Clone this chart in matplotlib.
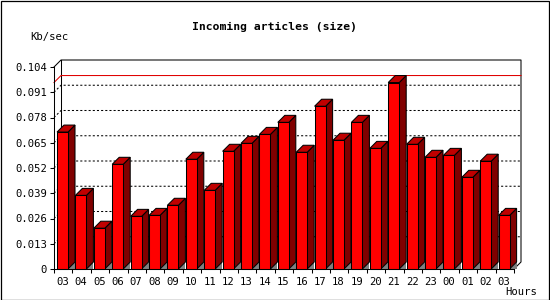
import matplotlib
matplotlib.use("Agg")
import matplotlib.pyplot as plt
from matplotlib.patches import Polygon, Rectangle

# hourly incoming article size (Kb/sec)
hours = ["03", "04", "05", "06", "07", "08", "09", "10", "11", "12", "13", "14", "15",
         "16", "17", "18", "19", "20", "21", "22", "23", "00", "01", "02", "03"]
kb_sec = [0.0705, 0.0379, 0.0210, 0.0539, 0.0271, 0.0276, 0.0328, 0.0565, 0.0405,
          0.0606, 0.0647, 0.0693, 0.0755, 0.0601, 0.0838, 0.0663, 0.0755, 0.0621,
          0.0960, 0.0642, 0.0575, 0.0585, 0.0472, 0.0555, 0.0276]
yticks = [0, 0.013, 0.026, 0.039, 0.052, 0.065, 0.078, 0.091, 0.104]
ytick_labels = ["0", "0.013", "0.026", "0.039", "0.052", "0.065", "0.078", "0.091", "0.104"]

W, H = 550, 300
FRONT = "#ff0000"
TOP = "#c00000"
SIDE = "#800000"
MONO = "DejaVu Sans Mono"

fig = plt.figure(figsize=(W / 100, H / 100), dpi=100)
fig.patch.set_facecolor("white")
fig.patches.append(Rectangle((0.5 / W, 0.5 / H), 1 - 1.5 / W, 1 - 1.5 / H,
                             transform=fig.transFigure, fill=False,
                             edgecolor="black", linewidth=0.9))

# front plane of the plot area in pixels
left, right, top, bottom = 54, 514, 67, 269
ax = fig.add_axes([left / W, 1 - bottom / H, (right - left) / W, (bottom - top) / H])
n = len(hours)
ymax = 0.104
ax.set_xlim(0, n)
ax.set_ylim(0, ymax)
ax.patch.set_alpha(0)

px_x = n / (right - left)          # data units per pixel
px_y = ymax / (bottom - top)
DX, DY = 7 * px_x, 7 * px_y        # 3d depth

lw = 0.75
# back wall frame
ax.plot([0, DX, n + DX, n + DX, n], [ymax, ymax + DY, ymax + DY, DY, 0],
        color="black", lw=lw, clip_on=False, zorder=1)
ax.plot([DX, DX], [DY, ymax + DY], color="black", lw=lw, clip_on=False, zorder=1)

# dashed grid on back wall
for v in yticks[1:-1]:
    ax.plot([0, DX, n + DX], [v, v + DY, v + DY], color="black", lw=lw,
            linestyle=(0, (2, 2)), clip_on=False, zorder=1)

# max line
vmax = max(kb_sec)
ax.plot([0, DX, n + DX], [vmax, vmax + DY, vmax + DY], color="#e00000", lw=lw,
        clip_on=False, zorder=1)

# bars
off = 3 * px_x
bw = 11 * px_x
for i, v in enumerate(kb_sec):
    x0 = i + off
    x1 = x0 + bw
    ax.add_patch(Polygon([(x1, 0), (x1 + DX, 0), (x1 + DX, DY)], closed=True,
                         facecolor="#808080", edgecolor="none", zorder=2, clip_on=False))
    ax.add_patch(Polygon([(x1, 0), (x1 + DX, DY), (x1 + DX, v + DY), (x1, v)], closed=True,
                         facecolor=SIDE, edgecolor="black", lw=lw, zorder=3, clip_on=False))
    ax.add_patch(Polygon([(x0, v), (x0 + DX, v + DY), (x1 + DX, v + DY), (x1, v)], closed=True,
                         facecolor=TOP, edgecolor="black", lw=lw, zorder=3, clip_on=False))
    ax.add_patch(Rectangle((x0, 0), bw, v, facecolor=FRONT, edgecolor="black",
                           lw=lw, zorder=4, clip_on=False))

# axes
for s in ["top", "right"]:
    ax.spines[s].set_visible(False)
for s in ["left", "bottom"]:
    ax.spines[s].set_linewidth(lw)
    ax.spines[s].set_zorder(5)

ax.set_yticks(yticks)
ax.set_yticklabels(ytick_labels, fontfamily=MONO, fontsize=7.6)
ax.tick_params(axis="y", length=3, width=lw, pad=2)
ax.set_xticks(range(n + 1))
ax.set_xticklabels([])
ax.tick_params(axis="x", which="major", length=3, width=lw)
ax.set_xticks([i + off + bw / 2 for i in range(n)], minor=True)
ax.set_xticklabels(hours, minor=True, fontfamily=MONO, fontsize=7.6)
ax.tick_params(axis="x", which="minor", length=0, pad=6)

fig.text(275 / W, 1 - 26.5 / H, "Incoming articles (size)", ha="center", va="center",
         fontfamily=MONO, fontweight="bold", fontsize=8.2)
fig.text(30 / W, 1 - 37 / H, "Kb/sec", ha="left", va="center",
         fontfamily=MONO, fontsize=7.6)
fig.text(505 / W, 1 - 292 / H, "Hours", ha="left", va="center",
         fontfamily=MONO, fontsize=7.6)

fig.savefig("out.png", dpi=100)
